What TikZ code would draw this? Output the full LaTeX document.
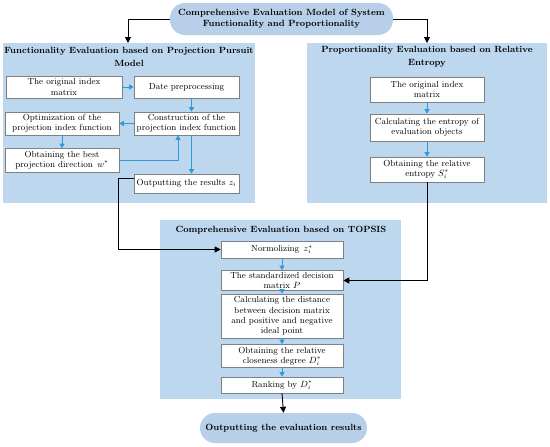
\documentclass[tikz,border=0pt]{standalone}
\usetikzlibrary{arrows.meta,calc}
\definecolor{panel}{HTML}{BDD7EE}
\definecolor{oval}{HTML}{B7CFE8}
\definecolor{barrow}{HTML}{2F9AD8}
\definecolor{bord}{HTML}{808080}
\begin{document}
\begin{tikzpicture}[x=1pt,y=-1pt,
  panelbox/.style={fill=panel,draw=none},
  wbox/.style={draw=bord,line width=0.6pt,fill=white,align=center,inner sep=1pt,font=\fontsize{8.8}{10.2}\selectfont},
  ptitle/.style={align=center,font=\bfseries\fontsize{9}{12.5}\selectfont},
  ovalbox/.style={fill=oval,draw=none,rounded corners=15pt,align=center,font=\bfseries\fontsize{9}{11}\selectfont},
  bluearr/.style={draw=barrow,line width=0.9pt,-{Triangle[width=5pt,length=4.5pt]}},
  blackarr/.style={draw=black,line width=0.9pt,-{Triangle[width=6pt,length=6pt]}},
  blackline/.style={draw=black,line width=0.9pt}
]
\useasboundingbox (0,0) rectangle (550,447);
% panels
\fill[panel] (3,43) rectangle (255,203);
\fill[panel] (307,43) rectangle (547,203);
\fill[panel] (160,220) rectangle (401,399);
% top oval
\node[ovalbox,minimum width=223pt,minimum height=32pt] (top) at (281.5,19) {Comprehensive Evaluation Model of System\\Functionality and Proportionality};
% titles
\node[ptitle] (lt) at (129,57) {Functionality Evaluation based on Projection Pursuit\\Model};
\node[ptitle] (rt) at (427,57) {Proportionality Evaluation based on Relative\\Entropy};
\node[ptitle] (bt) at (281,230) {Comprehensive Evaluation based on TOPSIS};
% left boxes
\node[wbox,minimum width=116pt,minimum height=22pt] (lo) at (64,87) {The original index\\matrix};
\node[wbox,minimum width=105pt,minimum height=22pt] (ld) at (186.5,87) {Date preprocessing};
\node[wbox,minimum width=114pt,minimum height=23pt] (lopt) at (62,123.5) {Optimization of the\\projection index function};
\node[wbox,minimum width=105pt,minimum height=23pt] (lcon) at (186.5,123.5) {Construction of the\\projection index function};
\node[wbox,minimum width=114pt,minimum height=24pt] (lbest) at (62,160.5) {Obtaining the best\\projection direction \,$w^{*}$};
\node[wbox,minimum width=105pt,minimum height=19pt] (lout) at (186.5,183.5) {Outputting the results $z_{i}$};
% right boxes
\node[wbox,minimum width=114pt,minimum height=25pt] (ro) at (427,89.5) {The original index\\matrix};
\node[wbox,minimum width=114pt,minimum height=27pt] (rc) at (427,127.5) {Calculating the entropy of\\evaluation objects};
\node[wbox,minimum width=114pt,minimum height=25pt] (rs) at (427,169.5) {Obtaining the relative\\entropy $S_{i}^{*}$};
% bottom boxes
\node[wbox,minimum width=122pt,minimum height=17pt] (bn) at (282,249.5) {Normolizing \,$z_{i}^{*}$};
\node[wbox,minimum width=122pt,minimum height=20pt] (bs) at (282,280.5) {The standardized decision\\matrix $P$};
\node[wbox,minimum width=122pt,minimum height=44pt] (bc) at (282,316) {Calculating the distance\\between decision matrix\\and positive and negative\\ideal point};
\node[wbox,minimum width=122pt,minimum height=23pt] (bo) at (282,356) {Obtaining the relative\\closeness degree $D_{i}^{*}$};
\node[wbox,minimum width=122pt,minimum height=16pt] (br) at (282,385) {Ranking by $D_{i}^{*}$};
% bottom oval
\node[ovalbox,minimum width=167pt,minimum height=30pt] (bot) at (283.5,428) {Outputting the evaluation results};
% coordinates
\coordinate (tl) at (128,43);
\coordinate (tr) at (427,43);
\coordinate (jl) at (118,178);
% black connectors
\draw[blackarr] (top.west) -| (tl);
\draw[blackarr] (top.east) -| (tr);
\draw[blackline] (lout.west |- jl) -- (jl) -- (jl |- bn.west);
\draw[blackarr] (jl |- bn.west) -- (bn.west);
\draw[blackarr] (rs.south) |- (bs.east);
\draw[blackarr] (br.south) -- (bot.north);
% blue arrows left
\draw[bluearr] (lo.east) -- (ld.west);
\draw[bluearr] ($(ld.south)+(5,0)$) -- ($(lcon.north)+(5,0)$);
\draw[bluearr] (lcon.west) -- (lopt.east);
\draw[bluearr] (lopt.south) -- (lbest.north);
\draw[bluearr] (lbest.east) -| ($(lcon.south)+(-8.5,0)$);
\draw[bluearr] ($(lcon.south)+(5,0)$) -- ($(lout.north)+(5,0)$);
% blue arrows right
\draw[bluearr] (ro.south) -- (rc.north);
\draw[bluearr] (rc.south) -- (rs.north);
% blue arrows bottom
\draw[bluearr] (bn.south) -- (bs.north);
\draw[bluearr] (bs.south) -- (bc.north);
\draw[bluearr] (bc.south) -- (bo.north);
\draw[bluearr] (bo.south) -- (br.north);
\end{tikzpicture}
\end{document}
